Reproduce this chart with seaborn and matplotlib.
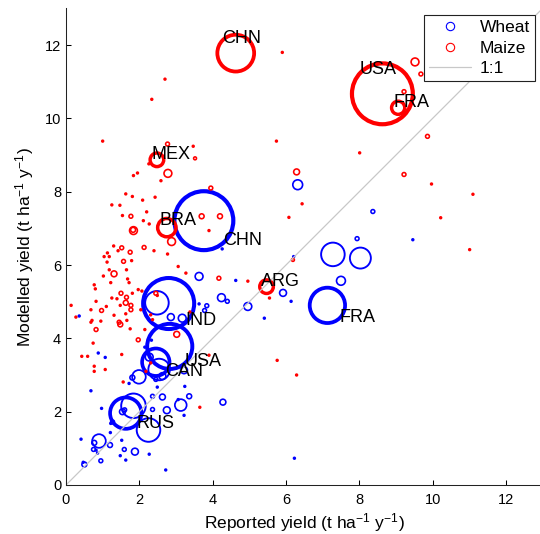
import matplotlib
matplotlib.use("Agg")
import matplotlib.pyplot as plt
from matplotlib.lines import Line2D
import numpy as np
import pandas as pd
import seaborn as sns

# reported yield, modelled yield (t/ha/y) and production for the circle area
wheat_rep = [2.54, 2.48, 1.84, 2.25, 7.28, 8.03, 7.50, 6.32, 8.37, 7.94, 9.46, 6.21, 6.14, 6.23,
             3.63, 4.63, 5.92, 4.24, 4.40, 4.96, 5.41, 3.63, 3.84, 3.78, 2.86, 3.17, 4.26, 3.36,
             4.28, 3.24, 3.22, 0.36, 0.88, 1.07, 2.33, 2.15, 2.27, 3.22, 2.63, 2.45, 1.99, 1.81,
             2.49, 1.72, 2.36, 2.63, 3.06, 3.13, 2.75, 2.36, 1.54, 1.60, 0.68, 0.97, 1.27, 1.22,
             1.21, 0.90, 0.77, 0.75, 0.86, 1.20, 0.41, 1.52, 1.59, 1.88, 1.63, 2.27, 0.95, 0.50,
             0.47, 2.72, 1.48, 0.82]
wheat_mod = [3.15, 4.97, 2.16, 1.50, 6.29, 6.19, 5.57, 8.19, 7.46, 6.72, 6.69, 6.23, 5.01, 0.73,
             5.69, 5.58, 5.24, 5.11, 5.01, 4.87, 4.55, 4.94, 4.89, 4.76, 4.58, 4.55, 6.44, 2.42,
             2.26, 2.69, 1.90, 4.61, 3.60, 3.48, 3.95, 3.76, 3.49, 3.13, 2.97, 2.88, 2.95, 2.93,
             2.67, 2.77, 2.42, 2.40, 2.33, 2.18, 2.04, 2.06, 2.00, 2.05, 2.57, 2.09, 1.72, 1.68,
             1.43, 1.20, 1.15, 0.97, 0.87, 1.09, 1.25, 1.22, 0.97, 0.91, 0.68, 0.84, 0.66, 0.56,
             0.62, 0.41, 0.80, 0.95]
wheat_prod = [40, 48, 52, 48, 48, 38, 6.8, 8.3, 1.3, 1.3, 0.3, 0.3, 0.3, 0.3,
              5.3, 0.3, 4.1, 5.3, 1.3, 5.3, 0.3, 0.3, 1.3, 1.3, 4.1, 5.3, 0.3, 2.1,
              3, 0.3, 0.3, 0.3, 0.3, 0.3, 0.3, 0.3, 5.3, 4.1, 4.1, 1.3, 16, 2.1,
              0.3, 0.3, 1.3, 3, 0.3, 12, 4.1, 1.3, 3, 1.3, 0.3, 0.3, 1.3, 0.3,
              0.3, 16, 2.1, 1.3, 0.3, 2.1, 0.3, 0.3, 1.3, 4.1, 0.3, 0.3, 1.3, 2.1,
              0.3, 0.3, 0.3, 0.3]

maize_rep = [1.00, 2.77, 2.26, 2.78, 1.84, 1.95, 2.59, 1.63, 1.81, 2.09, 2.43, 1.25, 1.47, 2.20,
             1.54, 1.77, 2.11, 2.27, 1.84, 1.83, 2.88, 1.13, 1.30, 1.52, 1.42, 1.75, 2.13, 2.40,
             2.77, 2.70, 2.34, 5.90, 5.74, 3.47, 3.52, 3.95, 3.70, 4.20, 3.90, 6.08, 6.29, 9.52,
             9.68, 9.22, 8.01, 9.86, 9.22, 9.97, 11.10, 6.44, 10.22, 11.01, 6.19, 6.29, 3.27, 4.17,
             4.96, 5.55, 3.38, 3.90, 5.76, 3.65, 1.04, 1.18, 1.12, 1.57, 1.79, 1.18, 1.65, 1.31,
             1.02, 1.68, 3.06, 1.22, 1.72, 0.77, 0.80, 1.97, 2.07, 1.50, 1.65, 1.81, 1.25, 1.39,
             0.82, 1.63, 1.48, 1.77, 1.10, 1.77, 0.97, 0.14, 0.68, 2.04, 1.63, 1.31, 0.27, 0.95,
             0.68, 0.71, 1.45, 1.48, 1.66, 0.82, 1.75, 2.15, 1.97, 0.74, 0.43, 0.59, 1.52, 0.77,
             2.45, 2.49, 2.31, 2.36, 3.02, 0.77, 1.07, 1.56, 2.18, 2.31]
maize_mod = [9.38, 9.30, 8.76, 8.50, 8.44, 8.51, 8.30, 7.94, 7.87, 7.77, 7.85, 7.64, 7.63, 7.45,
             7.35, 7.33, 7.21, 7.12, 6.94, 6.96, 6.64, 6.33, 6.52, 6.47, 6.39, 6.35, 6.48, 6.39,
             6.30, 11.07, 10.52, 11.80, 9.38, 9.24, 8.91, 8.10, 7.33, 7.33, 6.94, 7.30, 8.54, 11.54,
             11.21, 10.73, 9.06, 9.51, 8.47, 8.21, 7.93, 7.67, 7.29, 6.42, 6.14, 3.00, 5.78, 5.64,
             5.56, 5.10, 4.72, 3.54, 3.40, 2.12, 6.23, 6.23, 6.08, 6.10, 6.12, 5.87, 5.87, 5.76,
             5.70, 5.62, 5.96, 5.52, 5.52, 5.46, 5.35, 5.33, 5.29, 5.23, 5.12, 5.23, 5.10, 5.08,
             5.01, 4.97, 4.90, 4.90, 4.87, 4.78, 4.76, 4.90, 4.78, 4.78, 4.67, 4.63, 4.58, 4.47,
             4.44, 4.49, 4.44, 4.38, 4.49, 4.24, 4.26, 4.24, 3.96, 3.87, 3.51, 3.51, 3.56, 3.24,
             5.23, 5.17, 4.64, 4.51, 4.11, 3.10, 3.15, 2.81, 3.10, 3.33]
maize_prod = [0.3, 1.3, 0.3, 5.3, 0.3, 0.3, 0.3, 0.3, 0.3, 0.3, 0.3, 0.3, 0.3, 0.3,
              0.3, 1.3, 0.3, 0.3, 5.3, 2.1, 5.3, 0.3, 0.3, 1.3, 0.3, 1.3, 1.3, 0.3,
              0.3, 0.3, 0.3, 0.3, 0.3, 0.3, 0.75, 1.3, 2.1, 2.1, 0.3, 0.3, 3, 5.3,
              1.3, 1.3, 0.3, 1.3, 1.3, 0.3, 0.3, 0.3, 0.3, 0.3, 0.75, 0.3, 0.3, 1.3,
              0.3, 0.3, 0.3, 0.3, 0.3, 0.3, 0.3, 0.3, 0.3, 1.3, 0.3, 0.3, 0.3, 3,
              0.3, 0.3, 0.3, 0.3, 0.3, 0.3, 0.3, 0.3, 0.3, 1.3, 1.3, 0.3, 0.3, 0.3,
              0.3, 2.1, 0.3, 1.3, 0.3, 1.3, 1.3, 0.3, 0.3, 0.3, 0.3, 0.3, 0.3, 0.3,
              0.3, 0.3, 1.3, 2.1, 0.3, 1.3, 0.3, 0.3, 1.3, 0.3, 0.3, 0.3, 0.3, 0.3,
              1.3, 0.3, 0.3, 0.3, 3, 0.3, 0.3, 0.3, 0.3, 0.3]

# labelled countries
wheat_cty = ["CHN", "IND", "USA", "CAN", "RUS", "FRA"]
wheat_cty_rep = [3.76, 2.80, 2.83, 2.45, 1.63, 7.13]
wheat_cty_mod = [7.21, 4.95, 3.78, 3.35, 1.96, 4.90]
wheat_cty_prod = [300, 225, 176, 65, 85, 108]

maize_cty = ["CHN", "USA", "FRA", "MEX", "BRA", "ARG"]
maize_cty_rep = [4.63, 8.63, 9.06, 2.48, 2.75, 5.47]
maize_cty_mod = [11.78, 10.67, 10.29, 8.87, 7.02, 5.41]
maize_cty_prod = [117, 320, 15, 16, 29, 16]

sns.set_style("ticks")
plt.rcParams['font.family'] = ['Liberation Sans', 'DejaVu Sans']
plt.rcParams['mathtext.fontset'] = 'custom'
plt.rcParams['mathtext.rm'] = 'Liberation Sans'
plt.rcParams['mathtext.it'] = 'Liberation Sans:italic'
plt.rcParams['text.color'] = 'black'
plt.rcParams['axes.labelcolor'] = 'black'
plt.rcParams['xtick.color'] = 'black'
plt.rcParams['ytick.color'] = 'black'

fig = plt.figure(figsize=(5.4, 5.34), dpi=100)
ax = fig.add_axes([66/540, 49/534, 476.6/540, 476.6/534])

SCALE = 6.0  # marker area per production unit

def draw(rep, mod, prod, color, bold):
    df = pd.DataFrame({'rep': rep, 'mod': mod, 'prod': prod})
    lw = (2.3 if bold else 1.1) + 0.04*np.sqrt(df['prod'].values)
    sns.scatterplot(data=df, x='rep', y='mod', s=df['prod'].values*SCALE, marker='o',
                    facecolors='none', edgecolors=color, linewidth=lw, ax=ax, legend=False)

draw(wheat_rep, wheat_mod, wheat_prod, (0, 0, 1), False)
draw(wheat_cty_rep, wheat_cty_mod, wheat_cty_prod, (0, 0, 1), True)
draw(maize_rep, maize_mod, maize_prod, (1, 0, 0), False)
draw(maize_cty_rep, maize_cty_mod, maize_cty_prod, (1, 0, 0), True)

ax.plot([0, 13], [0, 13], color='#c8c8c8', lw=0.9)

# country names next to the circles
for name, x, y, p in zip(wheat_cty, wheat_cty_rep, wheat_cty_mod, wheat_cty_prod):
    r = np.sqrt(p*SCALE)/2
    ax.annotate(name, (x, y), xytext=(0.66*r, -0.68*r), textcoords='offset points',
                ha='left', va='center', fontsize=13, color='black')
for name, x, y, p in zip(maize_cty, maize_cty_rep, maize_cty_mod, maize_cty_prod):
    r = np.sqrt(p*SCALE)/2
    ax.annotate(name, (x, y), xytext=(-0.75*r, 0.8*r), textcoords='offset points',
                ha='left', va='center', fontsize=13, color='black')

ax.set_xlim(0, 13)
ax.set_ylim(0, 13)
ax.set_xticks(range(0, 13, 2))
ax.set_yticks(range(0, 13, 2))
ax.tick_params(direction='in', length=3.6, width=0.75, labelsize=10.5, colors='black')
ax.tick_params(axis='x', pad=6)
ax.tick_params(axis='y', pad=3.5)
for s in ['top', 'right']:
    ax.spines[s].set_visible(False)
for s in ['left', 'bottom']:
    ax.spines[s].set_linewidth(0.75)
    ax.spines[s].set_color('#222222')
ax.grid(False)

ax.set_xlabel('Reported yield (t ha$^{-1}$ y$^{-1}$)', fontsize=12.5, labelpad=3)
ax.set_ylabel('Modelled yield (t ha$^{-1}$ y$^{-1}$)', fontsize=12.5, labelpad=6)

handles = [Line2D([], [], ls='none', marker='o', mfc='none', mec='blue', ms=6, mew=0.8),
           Line2D([], [], ls='none', marker='o', mfc='none', mec='red', ms=6, mew=0.8),
           Line2D([], [], color='#c8c8c8', lw=0.9)]
leg = ax.legend(handles, ['Wheat', 'Maize', '1:1'], loc='upper left',
                bbox_to_anchor=(0.751, 0.986), fontsize=12.5, fancybox=False,
                framealpha=1, edgecolor='#222222', borderpad=0.3, labelspacing=0.3,
                handlelength=2.4, handletextpad=0.5, borderaxespad=0)
leg.get_frame().set_linewidth(0.8)

fig.savefig('out.png', dpi=100)
